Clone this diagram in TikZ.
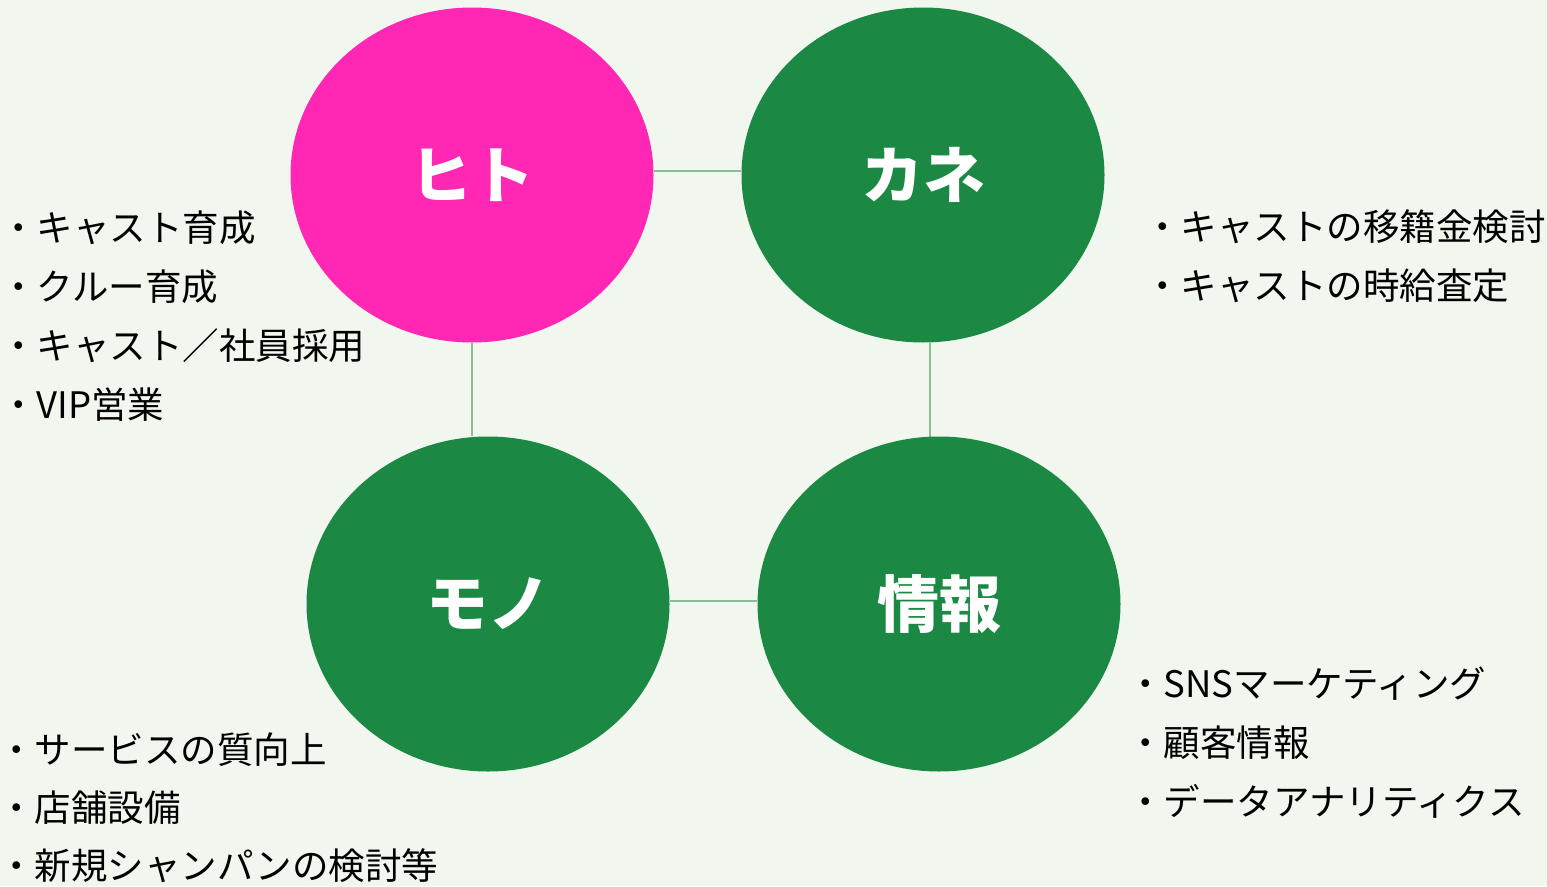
\documentclass[tikz,border=0pt]{standalone}
\usepackage{fontspec}
\setmainfont{Noto Sans CJK JP}
\usetikzlibrary{shapes.geometric}
\definecolor{bgc}{HTML}{F1F7EE}
\definecolor{pinkc}{HTML}{FF27B4}
\definecolor{greenc}{HTML}{1B8843}
\definecolor{linec}{HTML}{8DBE92}
\pgfdeclarelayer{back}
\pgfdeclarelayer{lines}
\pgfsetlayers{back,lines,main}
\tikzset{
  circ/.style={ellipse, draw=none, minimum width=363pt, minimum height=335pt, inner sep=0pt, text=white, font=\fontsize{62}{70}\selectfont\bfseries},
  item/.style={anchor=west, inner sep=0pt, font=\fontsize{36.5}{42}\selectfont, text=black},
  link/.style={draw=linec, line width=2pt}
}
\begin{document}
\begin{tikzpicture}[x=1pt,y=-1pt]
\begin{pgfonlayer}{back}
\fill[bgc] (0,0) rectangle (1547,886);
\end{pgfonlayer}
\useasboundingbox (0,0) rectangle (1547,886);
\node[circ, fill=pinkc] (hito) at (472,175) {ヒト};
\node[circ, fill=greenc] (kane) at (923,175) {カネ};
\node[circ, fill=greenc] (mono) at (488,604) {モノ};
\node[circ, fill=greenc] (joho) at (939,604) {情報};
\coordinate (kb) at (930,343);
\coordinate (jt) at (930,437);
\begin{pgfonlayer}{lines}
\draw[link] (hito.east |- 0,171) -- (kane.west |- 0,171);
\draw[link] (hito.south) -- (hito.south |- mono.north);
\draw[link] (kb) -- (jt);
\draw[link] (mono.east |- 0,601) -- (joho.west |- 0,601);
\end{pgfonlayer}
\node[item] (a1) at (0,228) {・キャスト育成};
\node[item] (a2) at (0,287) {・クルー育成};
\node[item] (a3) at (0,346) {・キャスト／社員採用};
\node[item] (a4) at (0,405) {・VIP営業};
\node[item] (b1) at (1144,227) {・キャストの移籍金検討};
\node[item] (b2) at (1144,286) {・キャストの時給査定};
\node[item] (c1) at (-2,750) {・サービスの質向上};
\node[item] (c2) at (-2,808) {・店舗設備};
\node[item] (c3) at (-2,866) {・新規シャンパンの検討等};
\node[item] (d1) at (1127,684) {・SNSマーケティング};
\node[item] (d2) at (1127,743) {・顧客情報};
\node[item] (d3) at (1127,801) {・データアナリティクス};
\end{tikzpicture}
\end{document}
